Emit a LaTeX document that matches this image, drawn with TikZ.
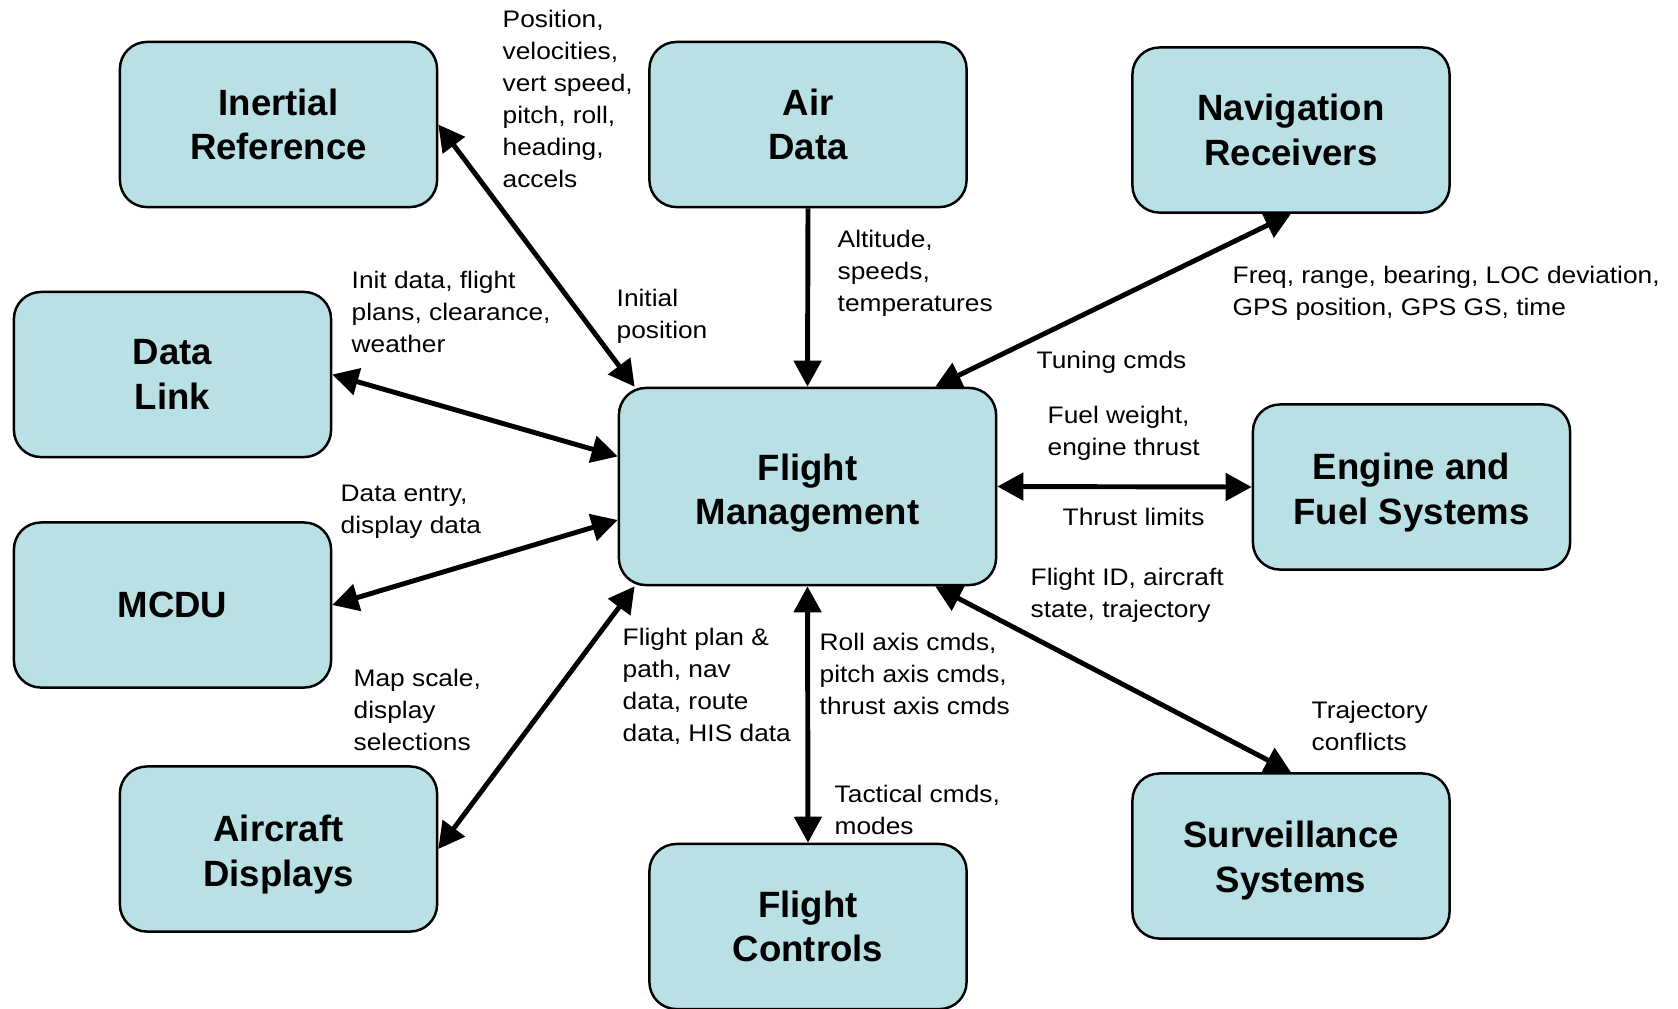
\documentclass[tikz,border=0pt]{standalone}
\usepackage{fontspec}
\setmainfont{Liberation Sans}
\newfontfamily\labelfont[FakeStretch=1.1]{Liberation Sans}
\usetikzlibrary{calc,arrows.meta,positioning}
\definecolor{boxfill}{RGB}{185,224,228}

\begin{document}
\begin{tikzpicture}[x = 0.01cm, y = -0.01cm,
        unit/.style = {draw, fill = boxfill, line width = 0.7pt, rounded corners = 0.27cm,
            minimum width = 3.17cm, minimum height = 1.65cm, inner sep = 0pt, align = center,
            font = \bfseries\fontsize{10.4}{12.7}\selectfont},
        low/.style = {text height = #1},
        info/.style = {anchor = west, inner sep = 0pt, align = left,
            font = \labelfont\fontsize{6.8}{9.1}\selectfont},
        link/.style = {line width = 1.4pt, {Triangle[length=0.26cm,width=0.27cm]}-{Triangle[length=0.26cm,width=0.27cm]}},
        feed/.style = {line width = 1.4pt, -{Triangle[length=0.26cm,width=0.27cm]}}]
        \useasboundingbox (0,0) rectangle (1678,1008);
        % boxes
        \node[unit](IR)at(278.5,124.5){Inertial\\Reference};
        \node[unit](AD)at(808,124.5){Air\\Data};
        \node[unit](NR)at(1291,130){Navigation\\Receivers};
        \node[unit](DL)at(172.5,374.5){Data\\Link};
        \node[unit, low = 24pt, minimum width = 3.77cm, minimum height = 1.97cm](FM)at(807.5,486.5){Flight\\Management};
        \node[unit, low = 23.4pt](EF)at(1411.5,487){Engine and\\Fuel Systems};
        \node[unit](MC)at(172.5,605){MCDU};
        \node[unit, low = 23.4pt](DS)at(278.5,849){Aircraft\\Displays};
        \node[unit](FC)at(808,926.5){Flight\\Controls};
        \node[unit, low = 22.8pt](SS)at(1291,856){Surveillance\\Systems};
        % connectors
        \path[draw, link](IR.east)to(FM.150);
        \path[draw, feed](AD.south)to(FM.north);
        \path[draw, link](NR.south)to(FM.38);
        \path[draw, link](DL.east)to(FM.171);
        \path[draw, link](MC.east)to(FM.190);
        \path[draw, link](DS.east)to(FM.210);
        \path[draw, link](FM.east)to(EF.west);
        \path[draw, link](FM.south)to(FC.north);
        \path[draw, link](SS.north)to(FM.322);
        % labels
        \node[info](l1)at(502,99){Position,\\velocities,\\vert speed,\\pitch, roll,\\heading,\\accels};
        \node[info](l2)at(616,316){Initial\\position};
        \node[info](l3)at(351,312){Init data, flight\\plans, clearance,\\weather};
        \node[info](l4)at(837,273){Altitude,\\speeds,\\temperatures};
        \node[info](l5)at(1232,293){Freq, range, bearing, LOC deviation,\\GPS position, GPS GS, time};
        \node[info](l6)at(1036,362){Tuning cmds};
        \node[info](l7)at(1047,433){Fuel weight,\\engine thrust};
        \node[info](l8)at(1062,517){Thrust limits};
        \node[info](l9)at(340,512){Data entry,\\display data};
        \node[info](l10)at(1030,595){Flight ID, aircraft\\state, trajectory};
        \node[info](l11)at(622,686){Flight plan \&\\path, nav\\data, route\\data, HIS data};
        \node[info](l12)at(819,674){Roll axis cmds,\\pitch axis cmds,\\thrust axis cmds};
        \node[info](l13)at(353,710){Map scale,\\display\\selections};
        \node[info](l14)at(1311,726){Trajectory\\conflicts};
        \node[info](l15)at(834,810){Tactical cmds,\\modes};
    \end{tikzpicture}
\end{document}
